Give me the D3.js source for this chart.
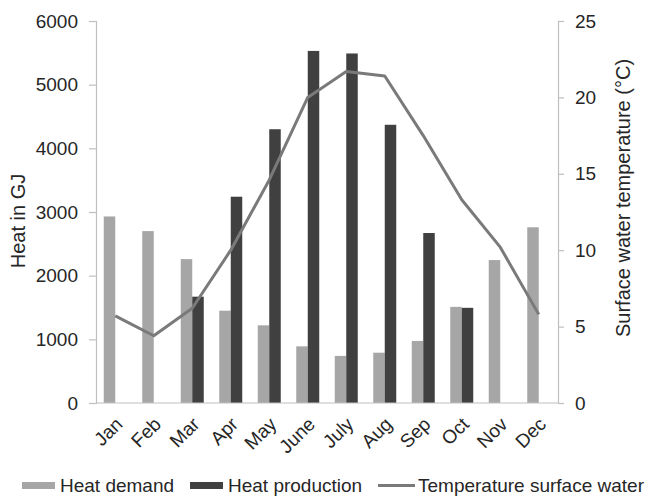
<!DOCTYPE html>
<html><head><meta charset="utf-8">
<script src="https://cdn.jsdelivr.net/npm/d3@7"></script>
<style>
body{margin:0;background:#fff;}
text{font-family:"Liberation Sans",Arial,sans-serif;fill:#262626;}
</style></head>
<body><svg id="c" width="648" height="497"></svg>
<script>
const months = ["Jan","Feb","Mar","Apr","May","June","July","Aug","Sep","Oct","Nov","Dec"];
const heatDemand = [2930,2700,2260,1450,1220,890,740,790,975,1510,2245,2760];
const heatProduction = [0,0,1670,3240,4300,5530,5490,4370,2670,1495,0,0];
const temperature = [5.7,4.4,6.2,10.0,14.6,20.0,21.7,21.4,17.5,13.3,10.2,5.8];
const leftTicks = [0,1000,2000,3000,4000,5000,6000];
const rightTicks = [0,5,10,15,20,25];
const seriesNames = ["Heat demand","Heat production","Temperature surface water"];

const colDemand = "#a6a6a6", colProd = "#404040", colLine = "#7a7a7a", axisCol = "#bfbfbf";
const fs = 19;
const svg = d3.select("#c");
const m = {l:96, r:558, t:21, b:403};

const x = d3.scaleBand().domain(months).range([m.l, m.r]);
const xs = d3.scaleBand().domain(["d","p"]).range([0, 23]);
const yL = d3.scaleLinear().domain([0,6000]).range([m.b, m.t]);
const yR = d3.scaleLinear().domain([0,25]).range([m.b, m.t]);

// bars
const g = svg.append("g");
months.forEach((mo,i)=>{
  const cx = x(mo) + x.bandwidth()/2 - 11.5;
  g.append("rect").attr("x", cx + xs("d")).attr("width", xs.bandwidth())
    .attr("y", yL(heatDemand[i])).attr("height", yL(0)-yL(heatDemand[i])).attr("fill", colDemand);
  if (heatProduction[i] > 0)
    g.append("rect").attr("x", cx + xs("p")).attr("width", xs.bandwidth())
      .attr("y", yL(heatProduction[i])).attr("height", yL(0)-yL(heatProduction[i])).attr("fill", colProd);
});

// left axis
const la = svg.append("g").attr("transform",`translate(${m.l},0)`)
  .call(d3.axisLeft(yL).tickValues(leftTicks).tickSize(7).tickPadding(11).tickFormat(d3.format("d")));
la.selectAll("path,line").attr("stroke", axisCol).attr("stroke-width",1.2);
la.selectAll("text").attr("font-size", fs).attr("fill","#262626").style("font-family","Liberation Sans, Arial");

// right axis
const ra = svg.append("g").attr("transform",`translate(${m.r},0)`)
  .call(d3.axisRight(yR).tickValues(rightTicks).tickSize(6).tickPadding(11));
ra.selectAll("path,line").attr("stroke", axisCol).attr("stroke-width",1.2);
ra.selectAll("text").attr("font-size", fs).attr("fill","#262626").style("font-family","Liberation Sans, Arial");

// bottom axis line
svg.append("line").attr("x1", m.l).attr("x2", m.r).attr("y1", yL(0)).attr("y2", yL(0))
  .attr("stroke", axisCol).attr("stroke-width",1.2);

// x labels
svg.append("g").selectAll("text").data(months).join("text")
  .attr("transform", d=>`translate(${x(d)+x.bandwidth()/2-1},${m.b+13}) rotate(-45)`)
  .attr("text-anchor","end").attr("dy","0.7em").attr("font-size", fs).text(d=>d);

// line
const line = d3.line().x((d,i)=>x(months[i])+x.bandwidth()/2).y(d=>yR(d));
svg.append("path").datum(temperature).attr("d", line).attr("fill","none")
  .attr("stroke", colLine).attr("stroke-width",3).attr("stroke-linejoin","round");

// axis titles
svg.append("text").attr("transform","translate(25,221) rotate(-90)").attr("text-anchor","middle")
  .attr("font-size", 20).text("Heat in GJ");
svg.append("text").attr("transform","translate(630,198) rotate(-90)").attr("text-anchor","middle")
  .attr("font-size", 20).text("Surface water temperature (°C)");

// legend
const lg = svg.append("g");
lg.append("rect").attr("x",22).attr("y",482).attr("width",33).attr("height",7).attr("fill",colDemand);
lg.append("text").attr("x",60).attr("y",492).attr("font-size",fs).text(seriesNames[0]);
lg.append("rect").attr("x",190).attr("y",482).attr("width",33).attr("height",7).attr("fill",colProd);
lg.append("text").attr("x",228).attr("y",492).attr("font-size",fs).text(seriesNames[1]);
lg.append("line").attr("x1",378).attr("x2",415).attr("y1",485.5).attr("y2",485.5).attr("stroke",colLine).attr("stroke-width",3);
lg.append("text").attr("x",418).attr("y",492).attr("font-size",fs).text(seriesNames[2]);
</script></body></html>
